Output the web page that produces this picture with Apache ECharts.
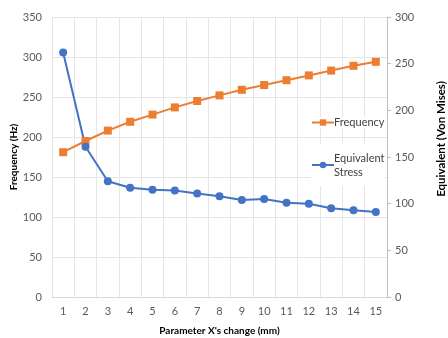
<!DOCTYPE html>
<html>
<head>
<meta charset="utf-8">
<script src="https://cdn.jsdelivr.net/npm/echarts@6/dist/echarts.min.js"></script>
<style>
  html, body { margin: 0; padding: 0; background: #fff; }
  #main { width: 448px; height: 338px; }
</style>
</head>
<body>
<div id="main"></div>
<script>
// 横轴类别 (mm)
var xCats = ['1','2','3','4','5','6','7','8','9','10','11','12','13','14','15'];
// 频率 (Hz) - 左轴
var frequency = [181,195,208,219,228,237,245,252,259,265,271,277,283,289,294];
// 等效应力 (Von Mises) - 右轴
var stress = [262,161,124,117,115,114,111,108,104,105,101,100,95,93,91];

var orange = '#ED7D31';
var blue = '#4472C4';
var fontFam = 'Lato';

var myChart = echarts.init(document.getElementById('main'));

var option = {
    animation: false,
    textStyle: { fontFamily: fontFam },
    grid: {
        left: 52,
        right: 61,
        top: 17,
        bottom: 41,
        containLabel: false,
        outerBoundsMode: 'none'
    },
    legend: [
        {
            left: 311,
            top: 117,
            itemWidth: 22,
            itemHeight: 8,
            itemGap: 0,
            padding: 0,
            backgroundColor: '#fff',
            textStyle: { fontSize: 11, color: '#404040', fontFamily: fontFam, padding: [0, 0, 0, -5] },
            data: ['Frequency']
        },
        {
            left: 311,
            top: 144,
            itemWidth: 22,
            itemHeight: 8,
            itemGap: 0,
            padding: 0,
            backgroundColor: '#fff',
            formatter: function () { return 'Equivalent\nStress'; },
            textStyle: { fontSize: 11, color: '#404040', fontFamily: fontFam, lineHeight: 14, padding: [14, 0, 0, -5] },
            data: ['Equivalent Stress']
        }
    ],
    xAxis: {
        type: 'category',
        data: xCats,
        boundaryGap: true,
        name: "Parameter X's change (mm)",
        nameLocation: 'middle',
        nameGap: 29,
        nameTextStyle: { fontSize: 10, fontWeight: 'bold', color: '#000', fontFamily: fontFam },
        axisLine: { lineStyle: { color: '#d9d9d9' } },
        axisTick: { show: false },
        axisLabel: { fontSize: 11, color: '#595959', margin: 9, interval: 0 },
        splitLine: { show: true, lineStyle: { color: '#e6e6e6' } }
    },
    yAxis: [
        {
            type: 'value',
            min: 0,
            max: 350,
            interval: 50,
            name: 'Frequency (Hz)',
            nameLocation: 'middle',
            nameGap: 33,
            nameMoveOverlap: false,
            nameTextStyle: { fontSize: 10, fontWeight: 'bold', color: '#000', fontFamily: fontFam },
            axisLine: { show: false },
            axisTick: { show: false },
            axisLabel: { fontSize: 11, color: '#595959', margin: 10 },
            splitLine: { lineStyle: { color: '#e6e6e6' } }
        },
        {
            type: 'value',
            min: 0,
            max: 300,
            interval: 50,
            position: 'right',
            name: 'Equivalent (Von Mises)',
            nameLocation: 'middle',
            nameGap: 48,
            nameTextStyle: { fontSize: 11.5, fontWeight: 'bold', color: '#000', fontFamily: fontFam, padding: [0, 0, 0, 36] },
            axisLine: { show: true, lineStyle: { color: '#bfbfbf' } },
            axisTick: { show: true, length: 4, lineStyle: { color: '#bfbfbf' } },
            axisLabel: { fontSize: 11, color: '#595959', margin: 8 },
            splitLine: { show: false }
        }
    ],
    series: [
        {
            name: 'Frequency',
            type: 'line',
            yAxisIndex: 0,
            data: frequency,
            color: orange,
            symbol: 'rect',
            symbolSize: 8,
            lineStyle: { width: 2 },
            smooth: false
        },
        {
            name: 'Equivalent Stress',
            type: 'line',
            yAxisIndex: 1,
            data: stress,
            color: blue,
            symbol: 'circle',
            symbolSize: 8,
            lineStyle: { width: 2 },
            smooth: false
        }
    ]
};
myChart.setOption(option);
</script>
</body>
</html>
